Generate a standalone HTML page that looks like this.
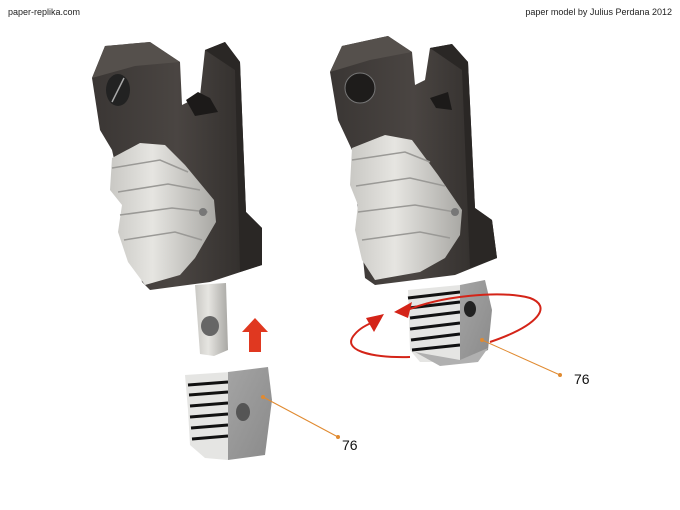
<!DOCTYPE html>
<html><head><meta charset="utf-8"><style>
html,body{margin:0;padding:0;background:#fff;}
svg{display:block;}
text{font-family:"Liberation Sans",sans-serif;}
</style></head><body>
<svg width="680" height="510" viewBox="0 0 680 510" xmlns="http://www.w3.org/2000/svg">
<defs>
<linearGradient id="dk" x1="0" y1="0" x2="1" y2="0"><stop offset="0" stop-color="#3a3634"/><stop offset="0.5" stop-color="#4a4542"/><stop offset="1" stop-color="#2c2927"/></linearGradient>
<linearGradient id="wt" x1="0" y1="0" x2="1" y2="0"><stop offset="0" stop-color="#c9c8c4"/><stop offset="0.4" stop-color="#e6e5e1"/><stop offset="1" stop-color="#a9a8a4"/></linearGradient>
<linearGradient id="gr" x1="0" y1="0" x2="1" y2="1"><stop offset="0" stop-color="#a4a4a4"/><stop offset="1" stop-color="#8a8a8a"/></linearGradient>
</defs>
<text x="8" y="15" font-size="9" fill="#222">paper-replika.com</text>
<text x="672" y="15" font-size="9" fill="#222" text-anchor="end">paper model by Julius Perdana 2012</text>

<!-- LEFT -->
<polygon fill="url(#dk)" points="92,78 105,46 150,42 180,62 182,105 200,96 205,50 225,42 240,62 246,212 262,228 262,265 210,282 150,290 142,282 112,150 100,130"/>
<polygon fill="#2a2725" points="205,50 225,42 240,62 246,212 262,228 262,265 240,272 235,70"/>
<polygon fill="#55504c" points="105,46 150,42 180,62 135,66 92,78"/>
<ellipse cx="118" cy="90" rx="12" ry="16" fill="#222"/>
<line x1="112" y1="102" x2="124" y2="78" stroke="#aaa" stroke-width="1.5"/>
<polygon fill="#1c1a19" points="186,100 198,92 210,98 218,112 195,116"/>
<polygon fill="url(#wt)" points="112,158 140,143 165,145 185,165 214,200 216,222 195,258 180,275 145,285 128,262 118,232 122,205 110,190"/>
<g stroke="#9a9996" stroke-width="1.5" fill="none">
<path d="M112,168 L160,160 L188,172"/><path d="M118,192 L168,184 L200,190"/><path d="M120,215 L172,208 L208,212"/><path d="M124,240 L175,232 L202,240"/>
</g>
<circle cx="203" cy="212" r="4" fill="#777"/>
<polygon fill="url(#wt)" points="195,285 226,283 228,350 214,356 200,354"/>
<ellipse cx="210" cy="326" rx="9" ry="10" fill="#666"/>
<polygon fill="#e03820" points="255,318 268,332 261,332 261,352 249,352 249,332 242,332"/>
<polygon fill="#e5e5e3" points="185,375 230,372 228,460 205,458 190,445 188,410"/>
<g stroke="#111" stroke-width="3">
<line x1="188" y1="385" x2="228" y2="382"/><line x1="189" y1="395" x2="228" y2="392"/><line x1="190" y1="406" x2="228" y2="403"/><line x1="190" y1="417" x2="228" y2="414"/><line x1="191" y1="428" x2="228" y2="425"/><line x1="192" y1="439" x2="228" y2="436"/>
</g>
<polygon fill="url(#gr)" points="228,372 268,367 272,400 265,455 228,460"/>
<ellipse cx="243" cy="412" rx="7" ry="9" fill="#555"/>
<line x1="263" y1="397" x2="338" y2="437" stroke="#e08a30" stroke-width="1"/>
<circle cx="263" cy="397" r="2" fill="#e08a30"/><circle cx="338" cy="437" r="2" fill="#e08a30"/>
<text x="342" y="450" font-size="14" fill="#111">76</text>

<!-- RIGHT -->
<polygon fill="url(#dk)" points="330,72 342,46 388,36 412,52 415,85 425,80 430,48 452,44 468,62 475,208 492,220 497,258 455,275 375,285 365,278 352,150 338,120"/>
<polygon fill="#2a2725" points="430,48 452,44 468,62 475,208 492,220 497,258 470,268 462,70"/>
<polygon fill="#55504c" points="342,46 388,36 412,52 370,60 330,72"/>
<circle cx="360" cy="88" r="15" fill="#1e1c1b" stroke="#777" stroke-width="1"/>
<polygon fill="#1c1a19" points="430,98 448,92 452,110 436,108"/>
<polygon fill="url(#wt)" points="352,148 385,135 412,140 438,175 462,210 460,235 445,258 420,272 375,280 362,260 355,230 358,205 350,185"/>
<g stroke="#9a9996" stroke-width="1.5" fill="none">
<path d="M352,160 L405,152 L430,162"/><path d="M356,186 L410,178 L445,186"/><path d="M358,212 L415,205 L455,212"/><path d="M362,240 L420,232 L450,238"/>
</g>
<circle cx="455" cy="212" r="4" fill="#777"/>
<polygon fill="#e5e5e3" points="408,290 460,285 460,362 420,362 410,350"/>
<g stroke="#111" stroke-width="3">
<line x1="408" y1="298" x2="460" y2="292"/><line x1="409" y1="308" x2="460" y2="302"/><line x1="410" y1="318" x2="460" y2="312"/><line x1="410" y1="329" x2="460" y2="323"/><line x1="411" y1="340" x2="460" y2="334"/><line x1="412" y1="350" x2="460" y2="345"/>
</g>
<polygon fill="url(#gr)" points="460,285 485,280 492,310 488,350 460,362"/>
<polygon fill="#b0b0b0" points="415,352 460,360 488,348 478,362 440,366"/>
<ellipse cx="470" cy="309" rx="6" ry="8" fill="#222"/>
<path d="M405,311 C440,296 500,290 530,298 C552,306 540,325 490,342" fill="none" stroke="#d42418" stroke-width="2"/>
<polygon fill="#d42418" points="394,312 412,302 408,318"/>
<path d="M410,357 C370,358 340,350 355,334 C360,328 368,324 376,321" fill="none" stroke="#d42418" stroke-width="2"/>
<polygon fill="#d42418" points="384,314 366,318 374,332"/>
<line x1="482" y1="340" x2="560" y2="375" stroke="#e08a30" stroke-width="1"/>
<circle cx="482" cy="340" r="2" fill="#e08a30"/><circle cx="560" cy="375" r="2" fill="#e08a30"/>
<text x="574" y="384" font-size="14" fill="#111">76</text>
</svg>
</body></html>
